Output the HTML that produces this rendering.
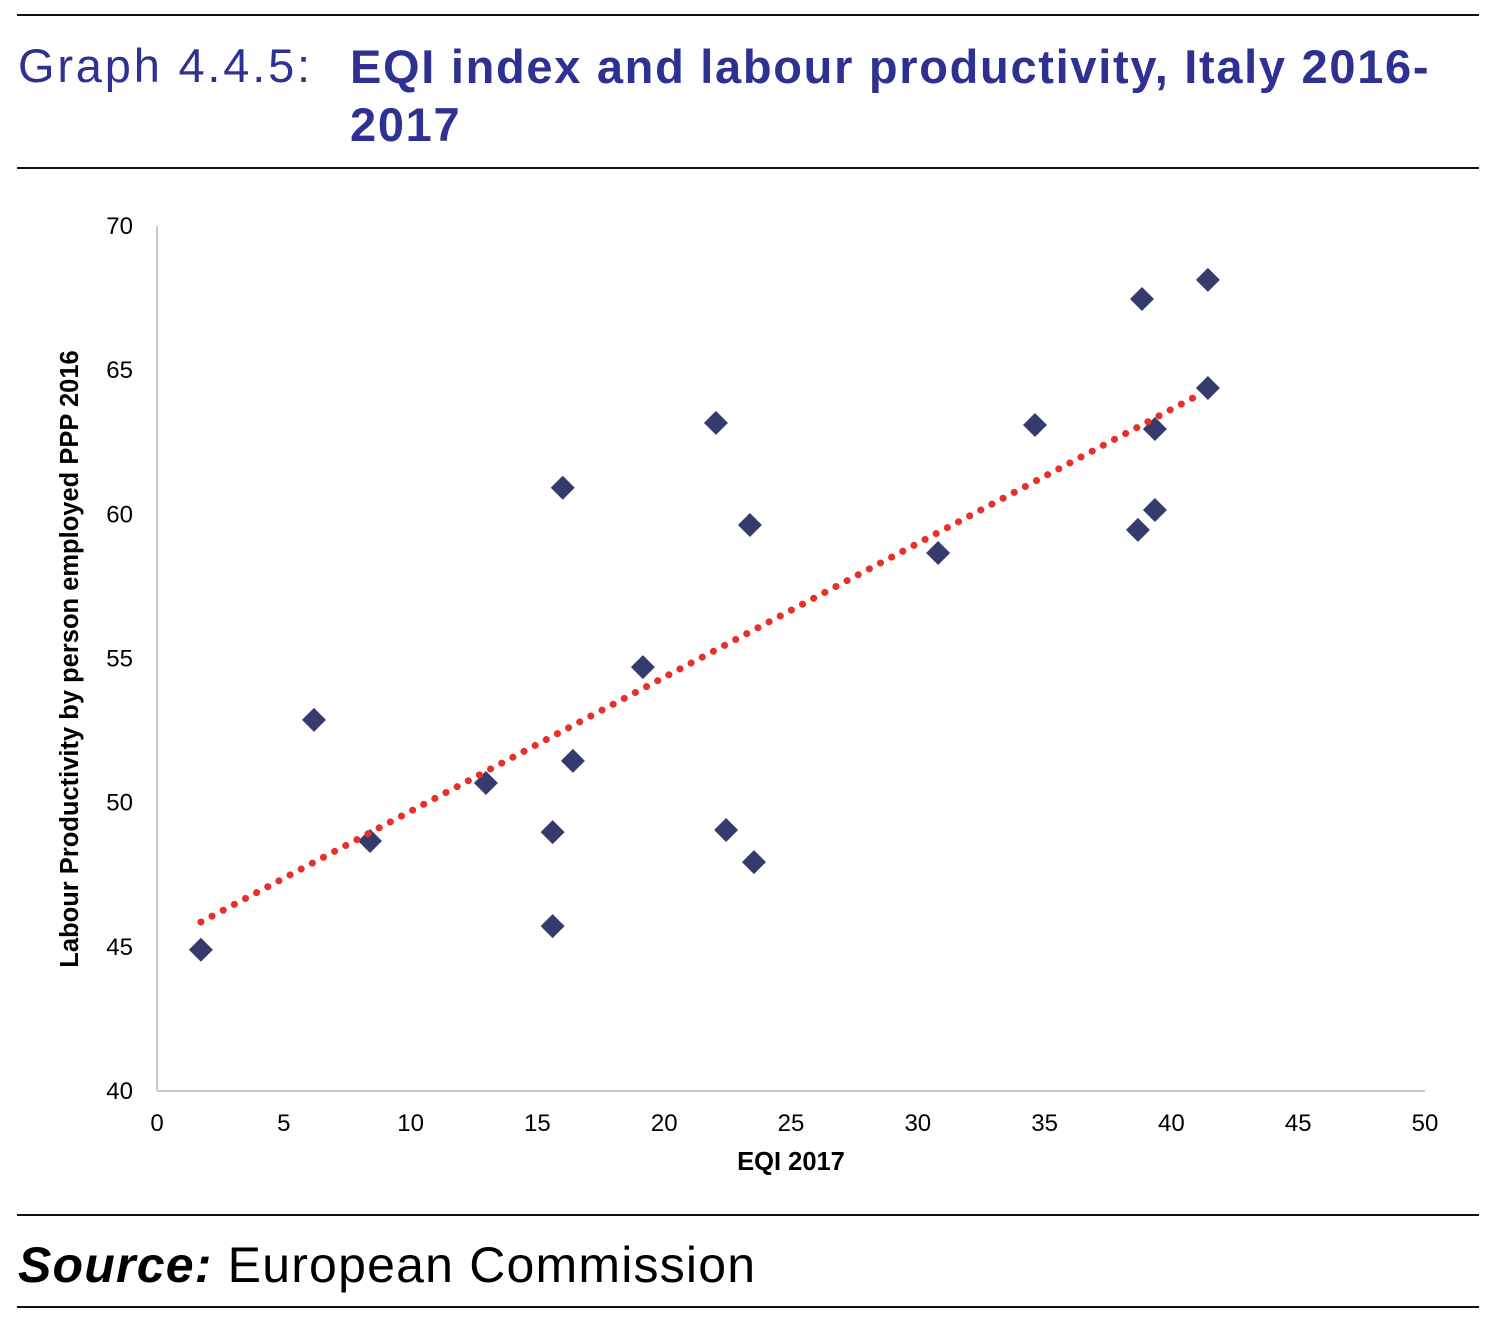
<!DOCTYPE html>
<html><head><meta charset="utf-8"><style>
body{margin:0;width:1502px;height:1324px;background:#fff;overflow:hidden;font-family:"Liberation Sans",sans-serif;position:relative}
.rule{position:absolute;left:17px;width:1462px;height:2px;background:#111}
.t{position:absolute;color:#2e3192;font-size:47px}
</style></head><body>
<div class="rule" style="top:14px"></div>
<div class="t" style="left:18px;top:38px;letter-spacing:2.8px">Graph 4.4.5:</div>
<div class="t" style="left:350px;top:38px;font-weight:bold;line-height:58px;width:1140px;letter-spacing:1.7px">EQI index and labour productivity, Italy 2016-<br>2017</div>
<div class="rule" style="top:167px"></div>
<svg id="chart" width="1502" height="1324" style="position:absolute;left:0;top:0" xmlns="http://www.w3.org/2000/svg"></svg>
<div class="rule" style="top:1214px"></div>
<div style="position:absolute;left:18px;top:1236px;font-size:50px;letter-spacing:1.2px;color:#000"><b><i>Source:</i></b> European Commission</div>
<div class="rule" style="top:1306px"></div>
<script>
const xs=[1.73,6.19,8.4,12.97,15.6,15.6,16.0,16.4,19.16,22.04,22.44,23.38,23.54,30.8,34.62,38.84,38.68,39.35,39.35,41.44,41.44];
const ys=[44.9,52.87,48.67,50.68,48.98,45.72,60.92,51.45,54.7,63.17,49.05,59.63,47.94,58.66,63.1,67.47,59.46,62.96,60.15,68.13,64.38];
const xTicks=[0,5,10,15,20,25,30,35,40,45,50];
const yTicks=[40,45,50,55,60,65,70];
const trendX=[1.73,41.2];
const trendY=[45.86,64.2];
const NS="http://www.w3.org/2000/svg",svg=document.getElementById('chart');
const X=v=>157+(v-0)*(1425-157)/50, Y=v=>1091-(v-40)*(1091-226)/30;
function mk(t,a){const e=document.createElementNS(NS,t);for(const k in a)e.setAttribute(k,a[k]);svg.appendChild(e);return e;}
let e=mk('line',{x1:157,y1:226,x2:157,y2:1091,stroke:'#c8c8c8','stroke-width':2});


e=mk('line',{x1:157,y1:1091,x2:1425,y2:1091,stroke:'#c8c8c8','stroke-width':2});


xTicks.forEach(v=>{const t=mk('text',{x:X(v),y:1131,'text-anchor':'middle','font-size':24,'font-family':'Liberation Sans, sans-serif'});t.textContent=v;

});
yTicks.forEach(v=>{const t=mk('text',{x:133,y:Y(v)+8,'text-anchor':'end','font-size':24,'font-family':'Liberation Sans, sans-serif'});t.textContent=v;

});
e=mk('text',{x:791,y:1170,'text-anchor':'middle','font-size':25.5,'font-weight':'bold','font-family':'Liberation Sans, sans-serif'});e.textContent='EQI 2017';


e=mk('text',{x:0,y:0,transform:'translate(78,659) rotate(-90)','text-anchor':'middle','font-size':25.5,'font-weight':'bold','font-family':'Liberation Sans, sans-serif'});e.textContent='Labour Productivity by person employed PPP 2016';


xs.forEach((v,i)=>{const cx=X(v),cy=Y(ys[i]),s=12;const p=mk('polygon',{points:`${cx},${cy-s} ${cx+s},${cy} ${cx},${cy+s} ${cx-s},${cy}`,fill:'#363b6e'});

});
e=mk('line',{x1:X(trendX[0]),y1:Y(trendY[0]),x2:X(trendX[1]),y2:Y(trendY[1]),stroke:'#e8302a','stroke-width':7,'stroke-linecap':'round','stroke-dasharray':'0.1 12.5'});


</script>
</body></html>
